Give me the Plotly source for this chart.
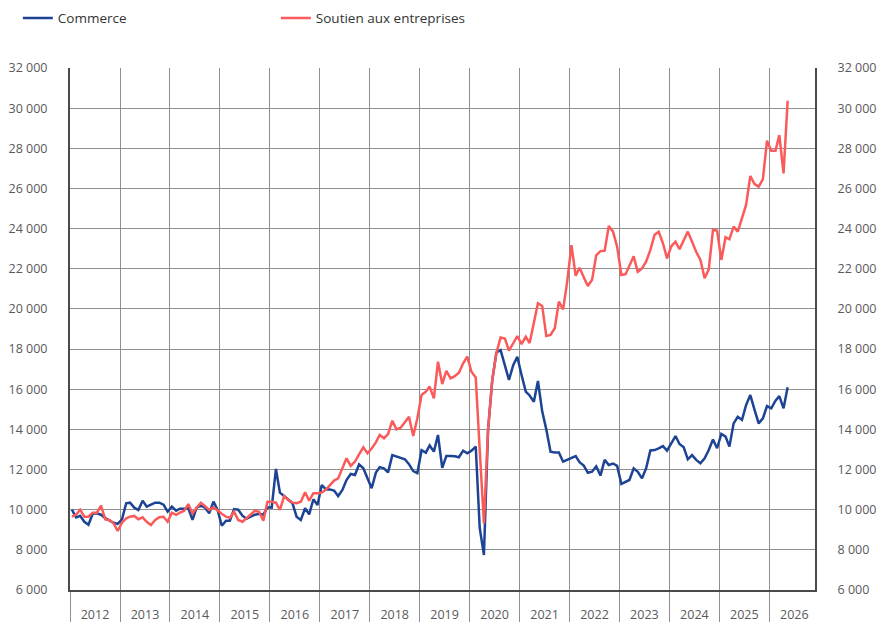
import pandas as pd
import plotly.graph_objects as go

# ---- data (monthly, Jan 2012 -> May 2026) ----
start_month = "2012-01-01"

commerce = [
    10000, 9620, 9700, 9400, 9250, 9800, 9820, 9750, 9580, 9450, 9350, 9290,          # 2012
    9520, 10320, 10350, 10100, 9980, 10450, 10150, 10250, 10350, 10350, 10250, 9900,  # 2013
    10150, 9950, 10050, 10050, 10070, 9490, 10100, 10200, 10100, 9820, 10400, 10000,  # 2014
    9200, 9450, 9450, 10030, 10000, 9700, 9550, 9650, 9750, 9800, 9750, 10120,        # 2015
    10100, 12030, 10850, 10680, 10520, 10320, 9650, 9490, 10070, 9770, 10520, 10230,  # 2016
    11230, 11010, 11010, 10950, 10680, 10980, 11480, 11780, 11730, 12260, 12060, 11600,  # 2017
    11070, 11850, 12120, 12060, 11860, 12720, 12640, 12560, 12510, 12270, 11920, 11820,  # 2018
    12960, 12840, 13200, 12890, 13720, 12080, 12670, 12670, 12660, 12610, 12940, 12810,  # 2019
    12940, 13140, 9100, 7740, 13970, 16460, 17830, 17950, 17120, 16460, 17200, 17620,    # 2020
    16710, 15880, 15690, 15380, 16410, 14900, 14000, 12890, 12850, 12850, 12390, 12480,  # 2021
    12550, 12670, 12370, 12200, 11840, 11890, 12160, 11700, 12480, 12230, 12300, 12180,  # 2022
    11280, 11400, 11480, 12060, 11890, 11560, 12060, 12950, 12970, 13050, 13170, 12940,  # 2023
    13300, 13670, 13270, 13110, 12510, 12720, 12480, 12310, 12560, 12970, 13500, 13060,  # 2024
    13770, 13640, 13140, 14300, 14630, 14470, 15210, 15710, 14970, 14300, 14550, 15160,  # 2025
    15050, 15430, 15660, 15050, 16100,                                                   # 2026
]

soutien = [
    9650, 9750, 10000, 9650, 9650, 9850, 9850, 10200, 9520, 9490, 9320, 8940,         # 2012
    9350, 9570, 9650, 9690, 9520, 9620, 9400, 9240, 9490, 9620, 9650, 9400,           # 2013
    9850, 9740, 9850, 9950, 10280, 9820, 10100, 10350, 10180, 9985, 10120, 9950,      # 2014
    9800, 9650, 9600, 9900, 9490, 9400, 9570, 9740, 9950, 9900, 9450, 10400,          # 2015
    10400, 10350, 9985, 10680, 10480, 10350, 10320, 10400, 10870, 10450, 10820, 10820,  # 2016
    10850, 11000, 11230, 11450, 11560, 12060, 12560, 12180, 12400, 12750, 13110, 12810,  # 2017
    13050, 13350, 13720, 13560, 13770, 14430, 14000, 14080, 14350, 14630, 13670, 14550,  # 2018
    15710, 15880, 16130, 15550, 17370, 16260, 16920, 16540, 16650, 16820, 17290, 17620,  # 2019
    16870, 16590, 13000, 9320, 13970, 16460, 17800, 18580, 18530, 17920, 18290, 18650,   # 2020
    18250, 18620, 18300, 19280, 20280, 20150, 18650, 18700, 19040, 20360, 19980, 21360,  # 2021
    23180, 21650, 22050, 21580, 21140, 21450, 22670, 22880, 22900, 24130, 23850, 23100,  # 2022
    21690, 21730, 22190, 22620, 21850, 22020, 22350, 22940, 23700, 23850, 23270, 22520,  # 2023
    23120, 23350, 22970, 23430, 23850, 23350, 22850, 22440, 21530, 21970, 23930, 23900,  # 2024
    22440, 23570, 23470, 24100, 23850, 24520, 25180, 26620, 26220, 26090, 26460, 28380,  # 2025
    27880, 27880, 28660, 26750, 30370,                                                   # 2026
]

series_names = ["Commerce", "Soutien aux entreprises"]
y_range = [6000, 32000]
x_range = ["2012-01-01", "2026-12-01"]

months = pd.date_range(start_month, periods=len(commerce), freq="MS") + pd.Timedelta(days=14)

BLUE = "#1d4494"
RED = "#fb5a5a"
GRID = "#8f8f8f"
AXIS = "#4a4a4a"
TICK = "#595959"
FONT = "Open Sans"

fig = go.Figure()
fig.add_trace(go.Scatter(x=months, y=commerce, name=series_names[0], mode="lines",
                         line=dict(color=BLUE, width=2.5), yaxis="y"))
fig.add_trace(go.Scatter(x=months, y=soutien, name=series_names[1], mode="lines",
                         line=dict(color=RED, width=2.5), yaxis="y2"))

yax_common = dict(range=y_range, tick0=6000, dtick=2000, tickformat=",d",
                  ticks="outside", ticklen=18, tickcolor="rgba(0,0,0,0)",
                  showline=True, linecolor=AXIS, linewidth=2, zeroline=False,
                  automargin=False,
                  tickfont=dict(family=FONT, size=12.5, color=TICK))

fig.update_layout(
    width=877, height=622,
    margin=dict(l=70, r=62, t=68, b=32, autoexpand=False),
    paper_bgcolor="white", plot_bgcolor="white",
    font=dict(family=FONT, color=TICK),
    separators=", ",
    showlegend=True,
    legend=dict(orientation="h", x=-0.070, xanchor="left", y=1.125, yanchor="top",
                entrywidth=213, entrywidthmode="pixels",
                font=dict(family=FONT, size=13.5, color="#333333"),
                bgcolor="rgba(0,0,0,0)"),
    xaxis=dict(type="date", range=x_range, tick0="2012-01-01", dtick="M12",
               tickformat="%Y", ticklabelmode="period",
               showgrid=True, gridcolor=GRID, gridwidth=1,
               ticks="outside", ticklen=32, tickwidth=1, tickcolor=GRID,
               ticklabelstandoff=-20, automargin=False,
               showline=True, linecolor=AXIS, linewidth=2, zeroline=False,
               tickfont=dict(family=FONT, size=12.5, color=TICK)),
    yaxis=dict(showgrid=True, gridcolor=GRID, gridwidth=1, side="left", **yax_common),
    yaxis2=dict(overlaying="y", side="right", showgrid=False, **yax_common),
)

fig.write_html("out.html", config={"displayModeBar": False},
               post_script="document.body.style.margin='0';document.body.style.overflow='hidden';")
